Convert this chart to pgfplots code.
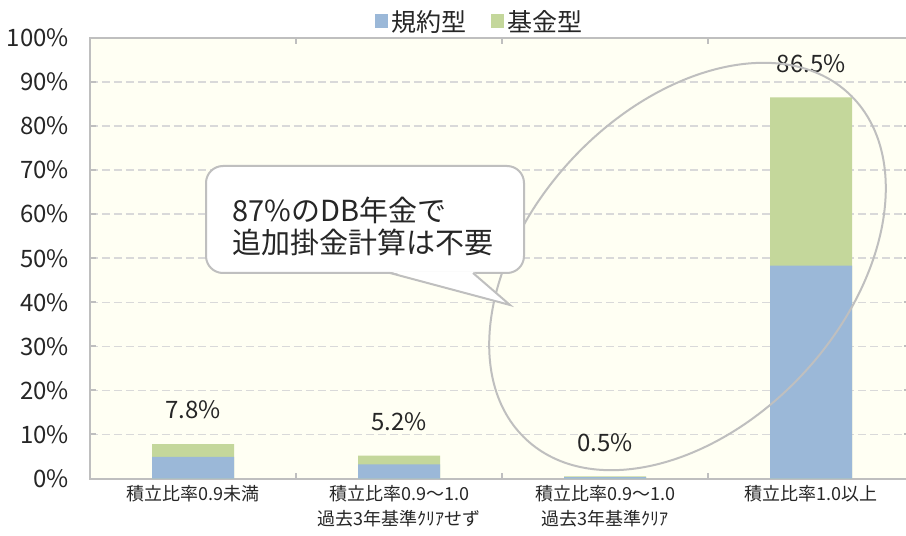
\documentclass[border=0pt]{standalone}
\usepackage{fontspec}
\setmainfont{Noto Sans CJK JP}
\usepackage{pgfplots}
\pgfplotsset{compat=1.18}
\definecolor{barblue}{RGB}{155,184,216}
\definecolor{bargreen}{RGB}{196,215,155}
\definecolor{bgcream}{RGB}{255,255,243}
\definecolor{axgray}{RGB}{191,191,191}
\definecolor{gridgray}{RGB}{217,217,217}
\definecolor{txt}{RGB}{38,38,38}
\begin{document}
\begin{tikzpicture}
\begin{axis}[
  at={(0pt,0pt)}, anchor=south west,
  scale only axis, width=410pt, height=220.25pt,
  xmin=-0.5, xmax=3.48, ymin=0, ymax=100,
  ybar, bar width=41pt, bar shift=0pt,
  axis background/.style={fill=bgcream},
  axis line style={axgray, line width=1pt},
  xtick={0,1,2,3},
  xticklabels={{積立比率0.9未満},{積立比率0.9～1.0\\過去3年基準ｸﾘｱせず},{積立比率0.9～1.0\\過去3年基準ｸﾘｱ},{積立比率1.0以上}},
  xticklabel style={align=center, font=\fontsize{9}{12.5}\selectfont, text=txt},
  major x tick style={draw=none},
  minor xtick={0.5,1.5,2.5},
  minor x tick style={axgray, line width=1pt},
  minor tick length=3pt,
  major tick length=3pt,
  ytick={0,10,...,100},
  yticklabels={0\%,10\%,20\%,30\%,40\%,50\%,60\%,70\%,80\%,90\%,100\%},
  yticklabel style={font=\fontsize{12}{14}\selectfont, text=txt, xshift=-7pt},
  major y tick style={axgray, line width=1pt},
  ymajorgrids,
  grid style={gridgray, line width=0.75pt, dash pattern=on 4pt off 2pt},
  tick align=inside,
  legend style={at={(0.4768,1.0363)}, anchor=center, draw=none, fill=none,
    font=\fontsize{12.5}{14}\selectfont, text=txt,
    /tikz/every even column/.append style={column sep=10pt}},
  legend columns=2,
]
\addlegendimage{legend image code/.code={\fill[barblue] (0pt,-2.5pt) rectangle (6pt,4pt);}}
\addlegendentry{規約型}
\addlegendimage{legend image code/.code={\fill[bargreen] (0pt,-2.5pt) rectangle (6pt,4pt);}}
\addlegendentry{基金型}
% total (規約型 + 基金型), drawn first
\addplot[fill=bargreen, draw=none, forget plot,
  point meta=explicit symbolic,
  nodes near coords={\pgfplotspointmeta\%},
  nodes near coords style={anchor=center, yshift=17pt, font=\fontsize{12}{14}\selectfont, text=txt}]
  table[x=x, y=y, meta=lab] {
x y lab
0 7.8 7.8
1 5.2 5.2
2 0.5 0.5
3 86.5 86.5
};
% 規約型
\addplot[fill=barblue, draw=none, forget plot]
  table[x=x, y=y] {
x y
0 4.9
1 3.2
2 0.3
3 48.3
};
\end{axis}
\begin{scope}[x=1pt, y=1pt]
  \draw[axgray, line width=1pt, rotate around={47:(298.75,106)}] (298.75,106) ellipse (118.25 and 78.85);
  \filldraw[fill=white, draw=axgray, line width=1pt, rounded corners=8.5pt] (58,102.75) rectangle (217,156.25);
  \fill[white] (150,103.5) -- (210,86.75) -- (191.5,103.5) -- cycle;
  \draw[axgray, line width=1pt] (150,102.75) -- (210,86.75) -- (191.5,102.75);
  \node[anchor=west, align=left, text=txt, font=\fontsize{14.5}{16}\selectfont, inner sep=0pt] at (71,126.25) {87\%のDB年金で\\追加掛金計算は不要};
  \pgfresetboundingbox
  \path (-45,-28.75) rectangle (408,239.25);
\end{scope}
\end{tikzpicture}
\end{document}
